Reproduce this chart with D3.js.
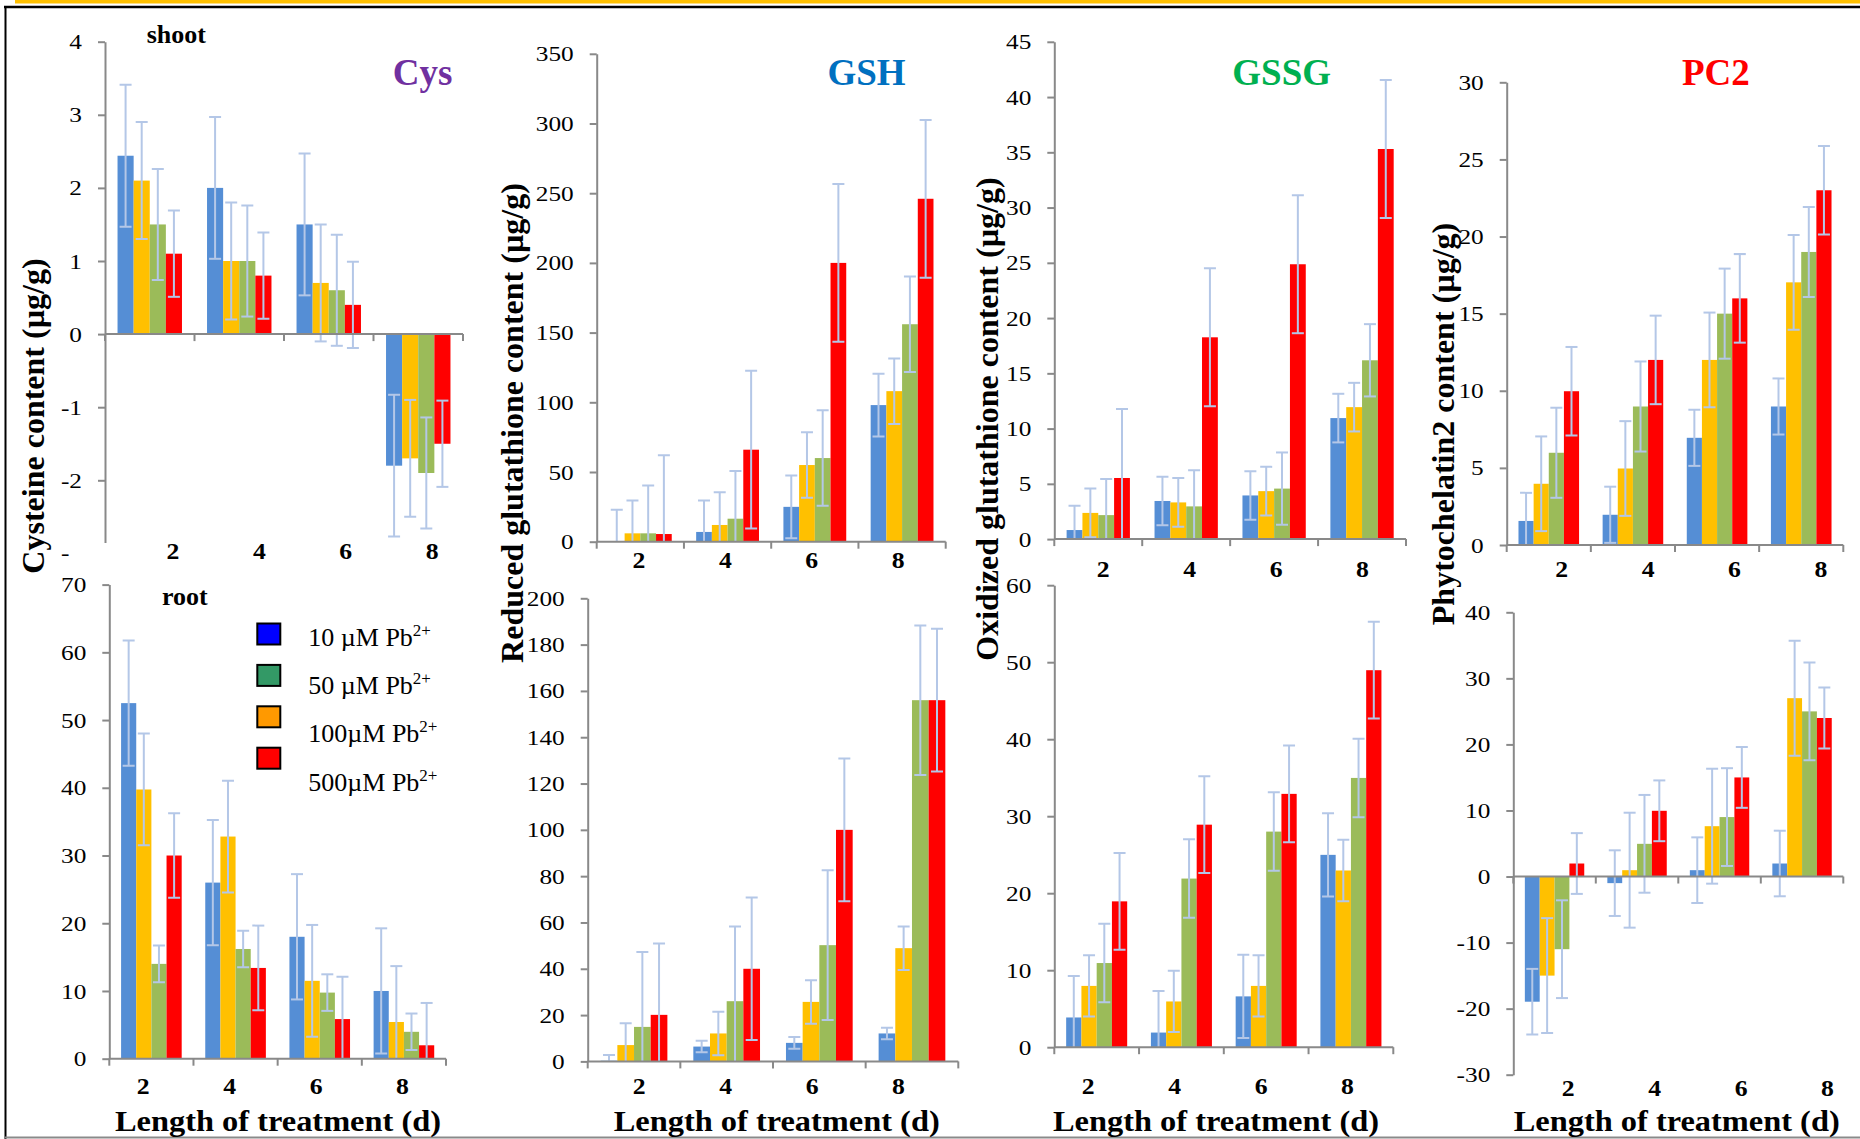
<!DOCTYPE html>
<html>
<head>
<meta charset="utf-8">
<script src="https://cdn.jsdelivr.net/npm/d3@7"></script>
<style>
	body { margin: 0; background: #fff; }
	svg { display: block; font-family: "Liberation Serif", "Times New Roman", serif; }
	svg text { font-family: "Liberation Serif", "Times New Roman", serif; }
</style>
</head>
<body>
<svg id="chart" width="1860" height="1139"></svg>
<script>
const days = ['2', '4', '6', '8'];
const barColors = ['#558ED5', '#FFC000', '#9BBB59', '#FF0000'];
const errColor = '#b4c7e7';
const axisColor = '#898989';

const legendLabels = ['10 µM Pb', '50 µM Pb', '100µM Pb', '500µM Pb'];
const legendColors = ['#0000FF', '#339966', '#FF9900', '#FF0000'];

// rows = bars in drawing order (blue, yellow, green, red), columns = days
const cysShoot = [
	[2.44, 2.0, 1.5, -1.8],
	[2.1, 1.0, 0.7, -1.7],
	[1.5, 1.0, 0.6, -1.9],
	[1.1, 0.8, 0.4, -1.5]
];
const cysShootErr = [0.97, 0.8, 0.76, 0.59];

const gshShoot = [
	[0.5, 7, 25, 98],
	[6, 12, 55, 108],
	[6, 16.5, 60, 156],
	[5.5, 66, 200, 246]
];
const gshShootErr = [22.5, 23.5, 34.3, 56.6];

const gssgShoot = [
	[0.82, 3.45, 3.95, 10.95],
	[2.37, 3.32, 4.34, 11.94],
	[2.17, 2.96, 4.57, 16.18],
	[5.53, 18.26, 24.87, 35.3]
];
const gssgShootErr = [2.2, 2.2, 3.27, 6.24];

const pc2Shoot = [
	[1.56, 1.96, 6.95, 8.98],
	[3.97, 4.96, 12.0, 17.03],
	[5.98, 8.98, 15.0, 19.0],
	[9.97, 12.0, 15.99, 23.0]
];
const pc2ShootErr = [1.82, 3.07, 2.92, 2.87];

const cysRoot = [
	[52.5, 26.0, 18.0, 10.0],
	[39.75, 32.8, 11.5, 5.42],
	[14.0, 16.2, 9.76, 3.97],
	[30.0, 13.4, 5.85, 1.98]
];
const cysRootErr = [9.25, 8.25, 2.7, 6.25];

const gshRoot = [
	[0.3, 6.4, 8.0, 12.07],
	[7.05, 12.07, 25.7, 48.9],
	[14.9, 26.0, 50.2, 156],
	[20.1, 40.0, 100.0, 156]
];
const gshRootErr = [2.5, 9.4, 32.3, 30.8];

const gssgRoot = [
	[3.86, 1.9, 6.6, 24.98],
	[7.96, 5.94, 7.96, 22.95],
	[10.93, 21.9, 28.0, 34.97],
	[18.94, 28.9, 32.9, 48.96]
];
const gssgRootErr = [5.4, 3.98, 5.1, 6.28];

const pc2Root = [
	[-18.95, -1.0, 0.96, 1.97],
	[-15.0, 0.96, 7.62, 27.0],
	[-11.0, 4.95, 9.0, 25.0],
	[1.97, 9.95, 15.0, 24.0]
];
const pc2RootErr = [4.97, 8.7, 7.4, 4.6];

const cysShootTicks = [-2, -1, 0, 1, 2, 3, 4];
const gshShootTicks = [0, 50, 100, 150, 200, 250, 300, 350];
const gssgShootTicks = [0, 5, 10, 15, 20, 25, 30, 35, 40, 45];
const pc2ShootTicks = [0, 5, 10, 15, 20, 25, 30];
const cysRootTicks = [0, 10, 20, 30, 40, 50, 60, 70];
const gshRootTicks = [0, 20, 40, 60, 80, 100, 120, 140, 160, 180, 200];
const gssgRootTicks = [0, 10, 20, 30, 40, 50, 60];
const pc2RootTicks = [-30, -20, -10, 0, 10, 20, 30, 40];

const svg = d3.select('#chart');

// page frame
svg.append('rect').attr('x', 15).attr('y', 0).attr('width', 1845).attr('height', 3.5).attr('fill', '#FFC000');
svg.append('line').attr('x1', 4).attr('x2', 1860).attr('y1', 7).attr('y2', 7).attr('stroke', '#000').attr('stroke-width', 2.5);
svg.append('line').attr('x1', 5.5).attr('x2', 5.5).attr('y1', 6).attr('y2', 1139).attr('stroke', '#000').attr('stroke-width', 2);
svg.append('line').attr('x1', 5).attr('x2', 1860).attr('y1', 1137.5).attr('y2', 1137.5).attr('stroke', '#8a8a8a').attr('stroke-width', 2);

const panels = [
	{ id: 1, data: cysShoot, err: cysShootErr, ticks: cysShootTicks, domain: [-3, 4], axisMin: -2.85,
		x0: 105, x1: 463, yTop: 41.7, yBot: 553.4, labelX: 173, labelY: 551 },
	{ id: 2, data: gshShoot, err: gshShootErr, ticks: gshShootTicks, domain: [0, 350],
		x0: 596.7, x1: 945.7, yTop: 53.8, yBot: 541.7, labelX: 639, labelY: 560 },
	{ id: 3, data: gssgShoot, err: gssgShootErr, ticks: gssgShootTicks, domain: [0, 45],
		x0: 1054.3, x1: 1406, yTop: 41.8, yBot: 539.1, labelX: 1103.3, labelY: 569 },
	{ id: 4, data: pc2Shoot, err: pc2ShootErr, ticks: pc2ShootTicks, domain: [0, 30],
		x0: 1506.7, x1: 1843.3, yTop: 82.3, yBot: 545, labelX: 1561.7, labelY: 569 },
	{ id: 5, data: cysRoot, err: cysRootErr, ticks: cysRootTicks, domain: [0, 70],
		x0: 109.3, x1: 446, yTop: 584.6, yBot: 1058.7, labelX: 143.3, labelY: 1086 },
	{ id: 6, data: gshRoot, err: gshRootErr, ticks: gshRootTicks, domain: [0, 200],
		x0: 587.7, x1: 958.3, yTop: 598.3, yBot: 1061.4, labelX: 639.3, labelY: 1086 },
	{ id: 7, data: gssgRoot, err: gssgRootErr, ticks: gssgRootTicks, domain: [0, 60],
		x0: 1054.3, x1: 1393.3, yTop: 585.2, yBot: 1047.2, labelX: 1088.3, labelY: 1086 },
	{ id: 8, data: pc2Root, err: pc2RootErr, ticks: pc2RootTicks, domain: [-30, 40],
		x0: 1513.3, x1: 1843.3, yTop: 612.3, yBot: 1074.7, labelX: 1568.3, labelY: 1088 }
];

function drawPanel(p) {
	const g = svg.append('g');
	const x = d3.scaleBand().domain(days).range([p.x0, p.x1]);
	const inner = d3.scaleBand().domain([0, 1, 2, 3]).range([0, x.bandwidth() * 0.72]);
	const pad = x.bandwidth() * 0.14;
	const y = d3.scaleLinear().domain(p.domain).range([p.yBot, p.yTop]);

	const clipId = 'clip' + p.id;
	svg.append('clipPath').attr('id', clipId)
		.append('rect')
		.attr('x', p.x0).attr('y', p.yTop)
		.attr('width', p.x1 - p.x0).attr('height', y(p.domain[0]) - p.yTop);

	const rows = [];
	p.data.forEach((vals, s) => vals.forEach((v, i) => rows.push({ s, day: days[i], v, e: p.err[s] })));
	const cx = d => x(d.day) + pad + inner(d.s) + inner.bandwidth() / 2;

	g.append('g').selectAll('rect').data(rows).join('rect')
		.attr('x', d => x(d.day) + pad + inner(d.s))
		.attr('width', inner.bandwidth())
		.attr('y', d => y(Math.max(0, d.v)))
		.attr('height', d => Math.abs(y(d.v) - y(0)))
		.attr('fill', d => barColors[d.s]);

	const eb = g.append('g')
		.attr('clip-path', `url(#${clipId})`)
		.attr('stroke', errColor)
		.attr('stroke-width', 2)
		.selectAll('g').data(rows).join('g');
	eb.append('line')
		.attr('x1', cx).attr('x2', cx)
		.attr('y1', d => y(d.v + d.e)).attr('y2', d => y(d.v - d.e));
	[1, -1].forEach(sign => {
		eb.append('line')
			.attr('x1', d => cx(d) - 6).attr('x2', d => cx(d) + 6)
			.attr('y1', d => y(d.v + sign * d.e)).attr('y2', d => y(d.v + sign * d.e));
	});

	// y axis
	const axMin = p.axisMin !== undefined ? p.axisMin : p.domain[0];
	const yAxisScale = y.copy().domain([axMin, p.domain[1]]).range([y(axMin), p.yTop]);
	const ya = g.append('g')
		.attr('transform', `translate(${p.x0},0)`)
		.call(d3.axisLeft(yAxisScale)
			.tickValues(p.ticks)
			.tickSize(7)
			.tickSizeOuter(0)
			.tickPadding(13)
			.tickFormat(d => String(d)));
	ya.attr('font-family', null).attr('font-size', null);
	ya.select('.domain').attr('stroke', axisColor).attr('stroke-width', 2);
	ya.selectAll('.tick line').attr('stroke', axisColor).attr('stroke-width', 2);
	ya.selectAll('.tick text')
		.style('font-family', '"Liberation Serif", "Times New Roman", serif')
		.style('font-size', '22px')
		.attr('fill', '#000')
		.attr('transform', 'scale(1.15,1)');

	if (p.axisMin !== undefined) {
		// the -3 label is mostly hidden behind the lower panel in the source
		const t = g.append('text')
			.attr('transform', `translate(${p.x0 - 23},${y(p.domain[0])}) scale(1.15,1)`)
			.attr('text-anchor', 'end').attr('dy', '0.32em')
			.attr('font-size', 22);
		t.append('tspan').text('-');
		t.append('tspan').attr('visibility', 'hidden').text('3');
	}

	// x axis at zero
	const zy = y(0);
	g.append('line')
		.attr('x1', p.x0).attr('x2', p.x1).attr('y1', zy).attr('y2', zy)
		.attr('stroke', axisColor).attr('stroke-width', 2);
	const bounds = [p.x0].concat(days.map(d => x(d) + x.bandwidth()));
	g.append('g').selectAll('line').data(bounds).join('line')
		.attr('x1', d => d).attr('x2', d => d)
		.attr('y1', zy).attr('y2', zy + 7)
		.attr('stroke', axisColor).attr('stroke-width', 2);

	g.append('g').selectAll('text').data(days).join('text')
		.attr('transform', (d, i) => `translate(${p.labelX + i * 86.4},${p.labelY}) scale(1.12,1)`)
		.attr('text-anchor', 'middle')
		.attr('dy', '0.35em')
		.attr('font-size', 23)
		.attr('font-weight', 'bold')
		.text(d => d);
}

panels.forEach(drawPanel);

// compound titles
const titles = [
	{ text: 'Cys', color: '#7030A0', x: 422.5 },
	{ text: 'GSH', color: '#0070C0', x: 866.5 },
	{ text: 'GSSG', color: '#00B050', x: 1281.7 },
	{ text: 'PC2', color: '#FF0000', x: 1715.8 }
];
svg.append('g').selectAll('text').data(titles).join('text')
	.attr('x', d => d.x).attr('y', 85)
	.attr('text-anchor', 'middle')
	.attr('font-size', 37)
	.attr('font-weight', 'bold')
	.attr('fill', d => d.color)
	.text(d => d.text);

svg.append('text').attr('x', 146.7).attr('y', 42.7)
	.attr('font-size', 26).attr('font-weight', 'bold').text('shoot');
svg.append('text').attr('x', 162).attr('y', 604.5)
	.attr('font-size', 26).attr('font-weight', 'bold').text('root');

// y axis titles
const yTitles = [
	{ text: 'Cysteine content (µg/g)', x: 33, y: 416 },
	{ text: 'Reduced glutathione content (µg/g)', x: 512, y: 423 },
	{ text: 'Oxidized glutathione content (µg/g)', x: 987, y: 419 },
	{ text: 'Phytochelatin2 content (µg/g)', x: 1443, y: 424 }
];
svg.append('g').selectAll('text').data(yTitles).join('text')
	.attr('transform', d => `translate(${d.x},${d.y}) rotate(-90)`)
	.attr('text-anchor', 'middle')
	.attr('dy', '0.35em')
	.attr('font-size', 32)
	.attr('font-weight', 'bold')
	.text(d => d.text);

// x axis titles
const xTitleX = [278, 776.7, 1216, 1676.7];
svg.append('g').selectAll('text').data(xTitleX).join('text')
	.attr('transform', d => `translate(${d},1131) scale(1.08,1)`)
	.attr('text-anchor', 'middle')
	.attr('font-size', 30)
	.attr('font-weight', 'bold')
	.text('Length of treatment (d)');

// legend
const lg = svg.append('g');
lg.selectAll('rect').data(legendColors).join('rect')
	.attr('x', 257.3)
	.attr('y', (d, i) => 623.5 + i * 41.4)
	.attr('width', 23)
	.attr('height', 21)
	.attr('fill', d => d)
	.attr('stroke', '#000')
	.attr('stroke-width', 2);
const lt = lg.selectAll('text').data(legendLabels).join('text')
	.attr('x', 308.3)
	.attr('y', (d, i) => 646 + i * 48.2)
	.attr('font-size', 26);
lt.append('tspan').text(d => d);
lt.append('tspan').attr('font-size', 17).attr('dy', -10).text('2+');
</script>
</body>
</html>
